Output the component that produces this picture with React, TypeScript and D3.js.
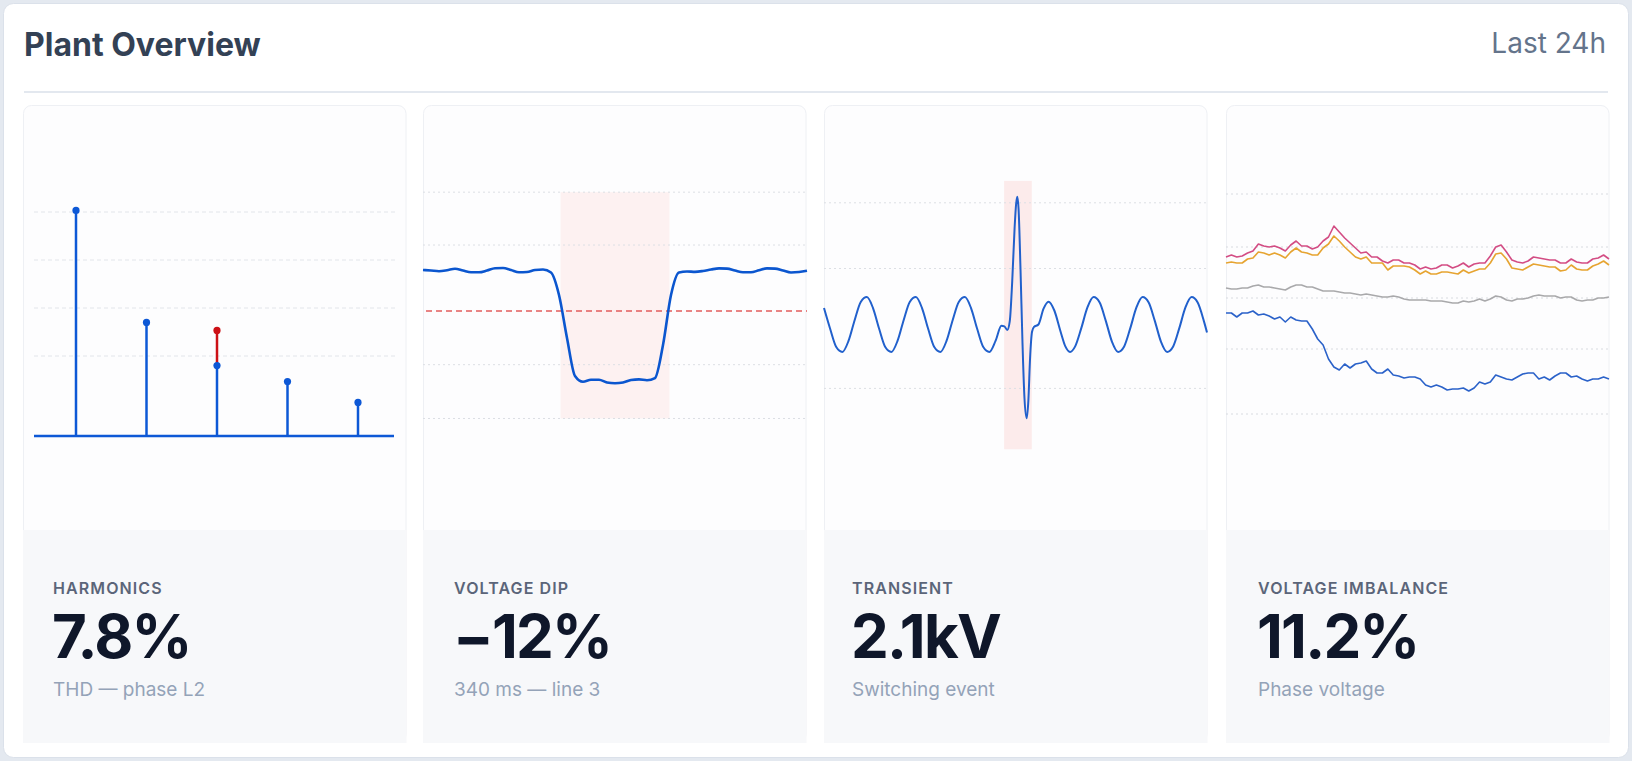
import React, { useRef, useEffect } from 'react';
import * as d3 from 'd3';

// Harmonics panel: amplitude of each order, % of fundamental
const harmonicOrders = [3, 5, 7, 9, 11];
const harmonicValues = [14.1, 7.1, 6.6, 3.4, 2.1];
const harmonicLimits = [16, 8, 4.4, 4, 3];
const harmonicGrid = [5, 8, 11, 14];

// Voltage dip panel: % of nominal, one sample every 25 ms
const dipStepMs = 25;
const dipValues = [
  100.11, 100.05, 99.98, 100.08, 100.24, 100.05, 99.87, 99.86, 100.05, 100.3,
  100.32, 100.11, 99.87, 99.89, 100.11, 100.16, 99.84, 97.41, 92.78, 88.68,
  88.06, 88.27, 88.27, 87.98, 87.9, 87.98, 88.25, 88.32, 88.22, 88.46,
  92.02, 97.41, 99.84, 99.95, 99.91, 100.0, 100.16, 100.28, 100.26, 100.05,
  99.86, 99.86, 100.08, 100.28, 100.26, 100.05, 99.84, 99.89, 100.03,
];
const dipWindow = [430, 770];
const dipThreshold = 95.7;
const dipGrid = [84.1, 89.9, 102.8, 108.5];

// Transient panel: kV against ms
const transientTimes = [
  0, 2.5, 5, 7.5, 10, 12.5, 15, 17.5, 20, 22.5, 25, 27.5, 30, 32.5, 35, 37.5,
  40, 42.5, 45, 47.5, 50, 52.5, 55, 57.5, 60, 62.5, 65, 67.5, 70, 72.4, 73.6, 74.8,
  75.8, 76.8, 77.8, 78.4, 78.9, 79.4, 80.2, 81.0, 81.8, 82.7, 83.4, 84.1, 84.9, 85.7,
  87.5, 89.6, 91.6, 94, 96.5, 98.5, 100.4,
  102.5, 105, 107.5, 110, 112.5, 115, 117.5, 120, 122.5, 125, 127.5, 130, 132.5,
  135, 137.5, 140, 142.5, 145, 147.5, 150, 152.5, 155, 156.3,
];
const transientValues = [
  0.27, -0.07, -0.37, -0.45, -0.27, 0.07, 0.37, 0.45, 0.27, -0.07, -0.37, -0.45, -0.27, 0.07, 0.37, 0.45,
  0.27, -0.07, -0.37, -0.45, -0.27, 0.07, 0.37, 0.45, 0.27, -0.07, -0.37, -0.45, -0.27, -0.02, -0.03, -0.09,
  0.05, 0.7, 1.6, 1.98, 2.1, 1.9, 0.9, -0.3, -1.2, -1.54, -1.25, -0.55, -0.12, -0.04,
  0.0, 0.26, 0.375, 0.23, -0.11, -0.36, -0.45,
  -0.36, -0.06, 0.28, 0.45, 0.36, 0.06, -0.28, -0.45, -0.36, -0.06, 0.28, 0.45, 0.36,
  0.06, -0.28, -0.45, -0.36, -0.06, 0.28, 0.45, 0.36, 0.06, -0.13,
];
const transientPeak = 2.1;
const transientWindow = [73.5, 84.8];
const transientBand = [-2.05, 2.36];
const transientGrid = [2.0, 0.92, -1.05];

// Imbalance panel: phase voltages (V), 20 min samples over 24 h
const phaseL1 = [
  233.3, 233.5, 233.3, 233.4, 233.7, 233.9, 234.6, 234.4, 234.3, 234.4,
  234.2, 233.9, 234.5, 234.9, 234.4, 234.4, 234.1, 234.3, 234.9, 235.3,
  236.4, 235.8, 235.2, 234.7, 234.2, 233.7, 233.8, 233.3, 233.3, 232.9,
  232.7, 233.0, 233.0, 232.7, 232.7, 232.5, 232.1, 232.3, 232.1, 232.2,
  232.5, 232.5, 232.2, 232.4, 232.7, 232.3, 232.6, 232.7, 232.7, 233.4,
  234.3, 234.5, 233.8, 233.0, 232.8, 232.7, 232.9, 233.3, 233.2, 233.1,
  233.0, 233.0, 232.7, 232.7, 233.1, 232.8, 232.7, 232.7, 233.1, 233.2,
  233.5, 233.1,
];
const phaseL2 = [
  232.7, 232.8, 232.7, 232.7, 233.1, 233.2, 233.8, 233.7, 233.5, 233.7,
  233.5, 233.2, 233.8, 234.2, 233.8, 233.7, 233.5, 233.5, 234.2, 234.6,
  235.4, 234.9, 234.3, 233.8, 233.3, 233.1, 233.3, 232.7, 232.7, 232.7,
  232.0, 232.4, 232.4, 232.4, 232.3, 232.0, 231.6, 231.9, 231.6, 231.6,
  231.8, 231.8, 231.7, 231.6, 232.0, 231.7, 231.9, 232.1, 232.1, 232.7,
  233.6, 233.7, 233.1, 232.2, 232.1, 232.0, 232.3, 232.6, 232.5, 232.4,
  232.3, 232.3, 231.9, 232.0, 232.5, 232.1, 232.0, 232.0, 232.4, 232.6,
  232.9, 232.5,
];
const phaseL3 = [
  230.2, 230.1, 230.1, 230.2, 230.2, 230.4, 230.5, 230.3, 230.3, 230.2,
  230.1, 230.0, 230.3, 230.5, 230.5, 230.3, 230.3, 230.1, 229.9, 229.9,
  229.9, 229.8, 229.7, 229.7, 229.6, 229.5, 229.6, 229.5, 229.4, 229.3,
  229.3, 229.4, 229.3, 229.1, 229.0, 229.0, 229.0, 229.0, 228.9, 228.9,
  228.9, 228.8, 228.7, 228.7, 228.9, 228.8, 228.9, 229.1, 228.9, 229.1,
  229.4, 229.3, 229.0, 228.9, 229.1, 229.1, 229.2, 229.4, 229.5, 229.4,
  229.4, 229.4, 229.2, 229.3, 229.3, 229.0, 228.9, 229.0, 229.0, 229.2,
  229.2, 229.3,
];
const feederB = [
  227.7, 227.7, 227.3, 227.7, 227.7, 227.9, 227.5, 227.6, 227.4, 227.1,
  227.3, 226.8, 227.3, 227.0, 226.9, 226.9, 226.1, 225.1, 224.5, 223.1,
  222.3, 222.0, 222.6, 222.2, 222.6, 222.7, 222.9, 222.1, 221.7, 221.7,
  222.1, 221.5, 221.4, 221.2, 221.3, 221.3, 221.1, 220.5, 220.3, 220.5,
  220.3, 220.0, 220.1, 220.1, 220.2, 219.9, 220.2, 220.8, 220.6, 220.8,
  221.5, 221.3, 221.1, 221.0, 221.3, 221.6, 221.7, 221.7, 221.1, 221.3,
  221.0, 221.4, 221.7, 221.7, 221.3, 221.4, 221.1, 220.9, 221.1, 221.1,
  221.3, 221.1,
];
const phaseSeries = [phaseL3, feederB, phaseL2, phaseL1];
const phaseColors = ['#a9a9ab', '#2b62c9', '#e6a431', '#d34d84'];
const imbalanceGrid = [217.6, 224.1, 229.2, 234.3, 239.6];

const cards = [
  { label: 'HARMONICS', value: '7.8%', note: 'THD — phase L2' },
  { label: 'VOLTAGE DIP', value: '−12%', note: '340 ms — line 3' },
  { label: 'TRANSIENT', value: '2.1kV', note: 'Switching event' },
  { label: 'VOLTAGE IMBALANCE', value: '11.2%', note: 'Phase voltage' },
];

const W = 1632;
const H = 761;
const panelX = [23, 423, 824, 1226];
const textInset = [30, 31, 28, 32];
const panelW = 383.5;
const panelTop = 105;
const statsTop = 530;
const panelBottom = 743;
const FONT = 'Inter, "Noto Sans", sans-serif';

const App = () => {
  const ref = useRef(null);

  useEffect(() => {
    const svg = d3.select(ref.current);
    svg.selectAll('*').remove();

    svg.append('rect').attr('width', W).attr('height', H).attr('fill', '#e4e9f0');
    svg.append('rect')
      .attr('x', 3.5).attr('y', 3.5).attr('width', W - 7).attr('height', H - 7)
      .attr('rx', 10).attr('fill', '#fff').attr('stroke', '#dbe1ea');

    // header
    svg.append('text')
      .attr('x', 24).attr('y', 56)
      .attr('font-family', FONT).attr('font-size', 32).attr('font-weight', 700)
      .attr('fill', '#334155').text('Plant Overview');
    svg.append('text')
      .attr('x', 1606).attr('y', 53).attr('text-anchor', 'end')
      .attr('font-family', FONT).attr('font-size', 28).attr('font-weight', 400)
      .attr('fill', '#64748b').text('Last 24h');
    svg.append('line')
      .attr('x1', 24).attr('x2', 1608).attr('y1', 92).attr('y2', 92)
      .attr('stroke', '#e3e8ef').attr('stroke-width', 2);

    // panel frames and stat blocks
    cards.forEach((c, i) => {
      const x0 = panelX[i];
      const tx0 = x0 + textInset[i];
      const p = svg.append('g');
      p.append('rect')
        .attr('x', x0 + 0.5).attr('y', panelTop + 0.5)
        .attr('width', panelW - 1).attr('height', panelBottom - panelTop - 1)
        .attr('rx', 8).attr('fill', '#fdfdfe').attr('stroke', '#eef0f4');
      p.append('rect')
        .attr('x', x0).attr('y', statsTop)
        .attr('width', panelW).attr('height', panelBottom - statsTop)
        .attr('fill', '#f7f8fa');
      p.append('text')
        .attr('x', tx0).attr('y', 594)
        .attr('font-family', FONT).attr('font-size', 16).attr('font-weight', 600)
        .attr('letter-spacing', 1.1).attr('fill', '#5b6579').text(c.label);
      p.append('text')
        .attr('x', tx0 - 1).attr('y', 658)
        .attr('font-family', FONT).attr('font-size', 60).attr('font-weight', 700)
        .attr('letter-spacing', -1.8)
        .attr('fill', '#0f172a').text(c.value);
      p.append('text')
        .attr('x', tx0).attr('y', 696)
        .attr('font-family', FONT).attr('font-size', 19).attr('font-weight', 400)
        .attr('fill', '#94a3b8').text(c.note);
    });

    const gridLines = (values, y, x1, x2, dash, color) => {
      svg.append('g').selectAll('line').data(values).enter().append('line')
        .attr('x1', x1).attr('x2', x2)
        .attr('y1', d => y(d)).attr('y2', d => y(d))
        .attr('stroke', color).attr('stroke-width', 1)
        .attr('stroke-dasharray', dash);
    };

    // --- harmonics stems
    const hx = d3.scalePoint().domain(harmonicOrders).range([76, 358]);
    const hy = d3.scaleLinear().domain([0, 14]).range([436, 212]);
    gridLines(harmonicGrid, hy, 34, 395, '4,3', '#e2e5ea');
    const blue = '#0d58d6';
    const red = '#cc1016';
    const stems = svg.append('g');
    harmonicOrders.forEach((o, i) => {
      const v = harmonicValues[i];
      const lim = harmonicLimits[i];
      const top = Math.min(v, lim);
      stems.append('line')
        .attr('x1', hx(o)).attr('x2', hx(o)).attr('y1', hy(0)).attr('y2', hy(top))
        .attr('stroke', blue).attr('stroke-width', 2.5);
      if (v > lim) {
        stems.append('line')
          .attr('x1', hx(o)).attr('x2', hx(o)).attr('y1', hy(lim)).attr('y2', hy(v))
          .attr('stroke', red).attr('stroke-width', 2.5);
        stems.append('circle').attr('cx', hx(o)).attr('cy', hy(lim)).attr('r', 3.6).attr('fill', blue);
        stems.append('circle').attr('cx', hx(o)).attr('cy', hy(v)).attr('r', 3.6).attr('fill', red);
      } else {
        stems.append('circle').attr('cx', hx(o)).attr('cy', hy(v)).attr('r', 3.6).attr('fill', blue);
      }
    });
    stems.append('line')
      .attr('x1', 34).attr('x2', 394).attr('y1', hy(0)).attr('y2', hy(0))
      .attr('stroke', blue).attr('stroke-width', 2.5);

    // --- voltage dip
    const dx = d3.scaleLinear().domain([0, (dipValues.length - 1) * dipStepMs]).range([423, 807]);
    const dy = d3.scaleLinear().domain([88, 100]).range([382.3, 271]);
    svg.append('rect')
      .attr('x', dx(dipWindow[0])).attr('width', dx(dipWindow[1]) - dx(dipWindow[0]))
      .attr('y', dy(dipGrid[3])).attr('height', dy(dipGrid[0]) - dy(dipGrid[3]))
      .attr('fill', '#fdf1f1');
    gridLines(dipGrid, dy, 423, 807, '2,3', '#dcdfe4');
    svg.append('line')
      .attr('x1', 426).attr('x2', 807).attr('y1', dy(dipThreshold)).attr('y2', dy(dipThreshold))
      .attr('stroke', '#e25c5c').attr('stroke-width', 1.5).attr('stroke-dasharray', '6,4');
    svg.append('path')
      .datum(dipValues)
      .attr('d', d3.line().x((d, i) => dx(i * dipStepMs)).y(d => dy(d)).curve(d3.curveMonotoneX))
      .attr('fill', 'none').attr('stroke', '#0b56cf').attr('stroke-width', 2.6);

    // --- transient
    const tx = d3.scaleLinear().domain([0, 156.3]).range([824, 1207]);
    const ty = d3.scaleLinear().domain([0, transientPeak]).range([324.5, 196.7]);
    svg.append('rect')
      .attr('x', tx(transientWindow[0])).attr('width', tx(transientWindow[1]) - tx(transientWindow[0]))
      .attr('y', ty(transientBand[1])).attr('height', ty(transientBand[0]) - ty(transientBand[1]))
      .attr('fill', '#fcebeb');
    gridLines(transientGrid, ty, 824, 1207, '2,3', '#dcdfe4');
    svg.append('path')
      .datum(transientTimes.map((t, i) => [t, transientValues[i]]))
      .attr('d', d3.line().x(d => tx(d[0])).y(d => ty(d[1])).curve(d3.curveMonotoneX))
      .attr('fill', 'none').attr('stroke', '#2160cc').attr('stroke-width', 2);

    // --- voltage imbalance
    const ix = d3.scaleLinear().domain([0, phaseL1.length - 1]).range([1226, 1609]);
    const iy = d3.scaleLinear().domain([217.6, 239.6]).range([414, 194]);
    gridLines(imbalanceGrid, iy, 1226, 1609, '2,3', '#d8dbe0');
    phaseSeries.forEach((s, k) => {
      svg.append('path')
        .datum(s)
        .attr('d', d3.line().x((d, i) => ix(i)).y(d => iy(d)))
        .attr('fill', 'none').attr('stroke', phaseColors[k])
        .attr('stroke-width', 1.6).attr('stroke-linejoin', 'round');
    });
  }, []);

  return (
    <div style={{ position: 'absolute', left: 0, top: 0 }}>
      <svg ref={ref} width={W} height={H} style={{ display: 'block' }}></svg>
    </div>
  );
};

export default App;
